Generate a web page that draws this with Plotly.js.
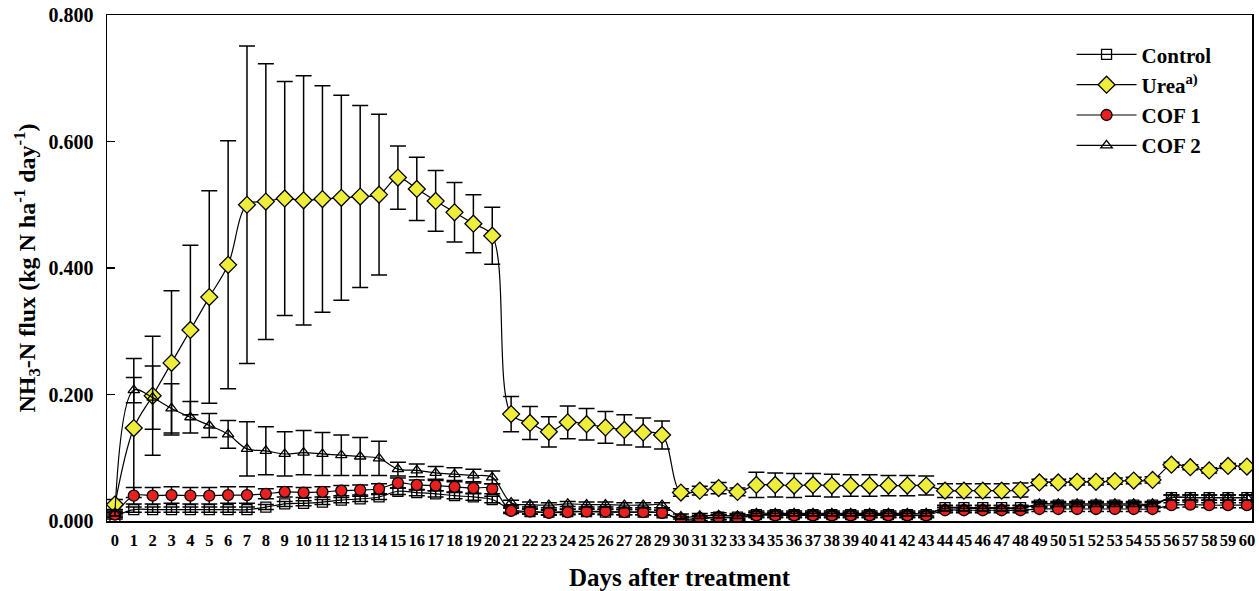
<!DOCTYPE html>
<html>
<head>
<meta charset="utf-8">
<script src="https://cdn.plot.ly/plotly-3.0.1.min.js"></script>
<style>html,body{margin:0;padding:0;background:#fff;}#chart{width:1259px;height:591px;}</style>
</head>
<body>
<div id="chart"></div>
<script>
const days = [0,1,2,3,4,5,6,7,8,9,10,11,12,13,14,15,16,17,18,19,20,21,22,23,24,25,26,27,28,29,30,31,32,33,34,35,36,37,38,39,40,41,42,43,44,45,46,47,48,49,50,51,52,53,54,55,56,57,58,59,60];

const control = [0.007,0.018,0.018,0.018,0.018,0.018,0.018,0.018,0.022,0.027,0.028,0.030,0.033,0.035,0.038,0.047,0.045,0.043,0.040,0.038,0.034,
  0.018,0.015,0.014,0.015,0.015,0.014,0.014,0.014,0.013,
  0.002,0.003,0.006,0.006,0.010,0.010,0.010,0.010,0.010,0.010,0.010,0.010,0.010,0.010,
  0.021,0.021,0.021,0.021,0.021,
  0.025,0.025,0.025,0.025,0.025,0.025,0.025,
  0.037,0.037,0.037,0.037,0.037];
const controlErr = [0.004,0.004,0.004,0.004,0.004,0.004,0.004,0.004,0.004,0.004,0.004,0.004,0.004,0.004,0.004,0.005,0.005,0.005,0.005,0.005,0.005,
  0.004,0.004,0.004,0.004,0.004,0.004,0.004,0.004,0.004,
  0.004,0.004,0.004,0.004,0.004,0.004,0.004,0.004,0.004,0.004,0.004,0.004,0.004,0.004,
  0.004,0.004,0.004,0.004,0.004,
  0.004,0.004,0.004,0.004,0.004,0.004,0.004,
  0.004,0.004,0.004,0.004,0.004];

const urea = [0.026,0.147,0.198,0.250,0.302,0.354,0.405,0.500,0.505,0.510,0.507,0.509,0.511,0.513,0.516,0.543,0.525,0.506,0.488,0.470,0.451,
  0.169,0.155,0.141,0.156,0.153,0.148,0.144,0.140,0.136,
  0.045,0.048,0.052,0.046,0.057,0.057,0.056,0.057,0.056,0.056,0.056,0.056,0.056,0.056,
  0.048,0.048,0.048,0.048,0.049,
  0.061,0.061,0.062,0.062,0.063,0.064,0.065,
  0.089,0.085,0.080,0.087,0.086];
const ureaErr = [0.008,0.110,0.094,0.114,0.134,0.168,0.196,0.251,0.218,0.185,0.197,0.179,0.162,0.144,0.127,0.050,0.050,0.048,0.047,0.046,0.045,
  0.028,0.026,0.024,0.026,0.025,0.025,0.024,0.023,0.022,
  0.006,0.007,0.009,0.006,0.020,0.019,0.019,0.018,0.018,0.017,0.017,0.016,0.016,0.015,
  0.011,0.011,0.011,0.011,0.011,
  0.005,0.005,0.005,0.005,0.005,0.005,0.005,
  0.004,0.004,0.004,0.004,0.004];

const cof1 = [0.010,0.040,0.040,0.041,0.040,0.040,0.041,0.041,0.043,0.046,0.045,0.046,0.048,0.049,0.051,0.060,0.057,0.056,0.054,0.052,0.051,
  0.016,0.015,0.013,0.014,0.015,0.015,0.014,0.014,0.013,
  0.003,0.0045,0.006,0.0045,0.009,0.009,0.009,0.009,0.009,0.009,0.009,0.009,0.009,0.009,
  0.017,0.017,0.017,0.017,0.017,
  0.019,0.019,0.019,0.019,0.019,0.019,0.019,
  0.025,0.026,0.025,0.025,0.025];
const cof1Err = [0.004,0.013,0.013,0.013,0.013,0.013,0.013,0.013,0.008,0.008,0.008,0.008,0.008,0.008,0.008,0.008,0.008,0.008,0.008,0.008,0.008,
  0.004,0.004,0.004,0.004,0.004,0.004,0.004,0.004,0.004,
  0.004,0.004,0.004,0.004,0.004,0.004,0.004,0.004,0.004,0.004,0.004,0.004,0.004,0.004,
  0.004,0.004,0.004,0.004,0.004,
  0.004,0.004,0.004,0.004,0.004,0.004,0.004,
  0.004,0.004,0.004,0.004,0.004];

const cof2 = [0.012,0.207,0.195,0.178,0.164,0.151,0.137,0.114,0.111,0.106,0.108,0.106,0.104,0.102,0.099,0.082,0.080,0.076,0.074,0.072,0.069,
  0.029,0.026,0.025,0.027,0.026,0.026,0.025,0.025,0.025,
  0.007,0.008,0.009,0.008,0.012,0.012,0.012,0.012,0.012,0.012,0.012,0.012,0.012,0.012,
  0.020,0.020,0.020,0.020,0.020,
  0.027,0.027,0.027,0.027,0.027,0.027,0.027,
  0.037,0.037,0.037,0.037,0.037];
const cof2Err = [0.004,0.020,0.050,0.039,0.025,0.019,0.022,0.043,0.038,0.035,0.035,0.034,0.032,0.030,0.027,0.011,0.010,0.010,0.010,0.010,0.010,
  0.004,0.004,0.004,0.004,0.004,0.004,0.004,0.004,0.004,
  0.004,0.004,0.004,0.004,0.004,0.004,0.004,0.004,0.004,0.004,0.004,0.004,0.004,0.004,
  0.004,0.004,0.004,0.004,0.004,
  0.004,0.004,0.004,0.004,0.004,0.004,0.004,
  0.004,0.004,0.004,0.004,0.004];

const seriesNames = ['Control', 'Urea<sup>a)</sup>', 'COF 1', 'COF 2'];

const FONT = 'Liberation Serif, Times New Roman, serif';

function mk(name, y, err, symbol, size, fill) {
  return {
    x: days, y: y, name: name, type: 'scatter', mode: 'lines+markers',
    line: {color: '#000', width: 1.2, shape: 'spline', smoothing: 1},
    marker: {symbol: symbol, size: size, color: fill, line: {color: '#000', width: 1.3}},
    error_y: {type: 'data', array: err, visible: true, color: '#000', thickness: 1.5, width: 8}
  };
}

const traces = [
  mk(seriesNames[0], control, controlErr, 'square-open', 10, '#000'),
  mk(seriesNames[1], urea, ureaErr, 'diamond', 13, '#eeee3a'),
  mk(seriesNames[2], cof1, cof1Err, 'circle', 11, '#e8201f'),
  mk(seriesNames[3], cof2, cof2Err, 'triangle-up-open', 10, '#000')
];

const layout = {
  width: 1259, height: 591,
  margin: {l: 107, r: 7, t: 15, b: 70},
  paper_bgcolor: '#fff', plot_bgcolor: '#fff',
  font: {family: FONT, color: '#000'},
  showlegend: true,
  legend: {x: 0.8424, y: 0.962, xanchor: 'left', yanchor: 'top', bgcolor: 'rgba(0,0,0,0)',
    font: {family: FONT, size: 21, weight: 'bold', color: '#000'}, itemwidth: 60, tracegroupgap: 0},
  xaxis: {
    range: [-0.42, 60.27], tickvals: days, ticktext: days.map(String), ticks: '',
    tickangle: 0, ticklabelstandoff: 4,
    showgrid: false, zeroline: false, showline: true, linecolor: '#000', linewidth: 1.5, mirror: true,
    tickfont: {family: FONT, size: 16.5, weight: 'bold'},
    title: {text: 'Days after treatment', font: {family: FONT, size: 25, weight: 'bold'}, standoff: 24}
  },
  yaxis: {
    range: [0, 0.8], tickvals: [0, 0.2, 0.4, 0.6, 0.8], tickformat: '.3f',
    ticks: 'inside', ticklen: 8, tickwidth: 1.5, tickcolor: '#000',
    ticklabelstandoff: 8,
    showgrid: false, zeroline: false, showline: true, linecolor: '#000', linewidth: 1.5, mirror: true,
    tickfont: {family: FONT, size: 20, weight: 'bold'},
    title: {text: 'NH<sub>3</sub>-N flux (kg N ha<sup>-1</sup> day<sup>-1</sup>)', font: {family: FONT, size: 24, weight: 'bold'}, standoff: 6}
  }
};

Plotly.newPlot('chart', traces, layout, {displayModeBar: false, staticPlot: true});
</script>
</body>
</html>
